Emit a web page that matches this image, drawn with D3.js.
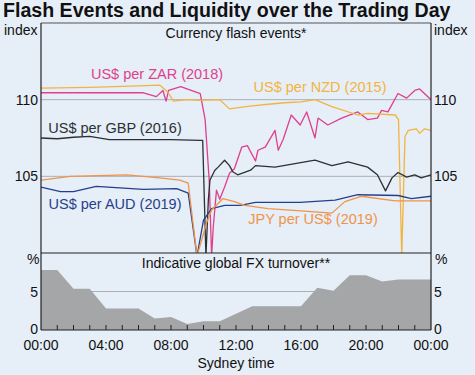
<!DOCTYPE html>
<html>
<head>
<meta charset="utf-8">
<script src="https://cdn.jsdelivr.net/npm/d3@7"></script>
<style>
  body { margin: 0; background: #e6eef7; }
  svg { display: block; font-family: "Liberation Sans", Arial, sans-serif; }
</style>
</head>
<body>
<div id="chart"></div>
<script>
// hours since midnight (Sydney time), index value
var zar = [[0,110.45],[6.3,110.45],[7.1,110.2],[7.5,110.6],[7.7,109.9],[7.85,110.6],[8.6,110.85],[9.8,110.4],
  [10.1,108.7],[10.35,104.76],[10.5,99.8],[10.6,101.7],[10.8,104.1],[11.0,103.5],[11.3,104.3],[11.6,105.2],
  [11.9,105.5],[12.35,106.9],[12.7,107.0],[13.2,106.0],[13.35,106.7],[13.8,106.9],[14.4,108.0],[14.6,106.7],
  [14.9,107.4],[15.4,109.0],[15.95,108.35],[16.35,109.2],[16.86,107.5],[17.05,108.8],[17.65,108.35],
  [18.5,108.8],[19.5,109.2],[20.1,108.7],[20.7,108.8],[20.96,109.3],[21.35,109.2],[21.97,110.4],
  [22.5,110.1],[23.0,110.6],[23.3,110.7],[24,110.0]];
var nzd = [[0,110.75],[3,110.8],[6,110.9],[7.3,110.95],[7.8,110.5],[8.15,109.9],[8.97,110.0],[9.8,109.95],
  [11.0,110.0],[11.6,109.4],[12.25,109.5],[13,109.6],[14,109.7],[15,109.8],[16,109.85],[16.86,110.0],
  [17.9,109.55],[19.5,109.0],[20.1,109.1],[21.8,109.0],[22.0,108.7],[22.2,99.8],[22.4,107.6],[22.6,108.0],
  [23.1,108.1],[23.3,107.8],[23.6,108.1],[24,108.0]];
var gbp = [[0,107.5],[1,107.45],[2,107.55],[3,107.6],[4.2,107.4],[6,107.4],[8,107.4],[9.8,107.35],
  [9.95,107.35],[10.15,99.8],[10.3,103.5],[10.4,104.76],[10.7,105.4],[10.9,105.6],[11.3,106.05],
  [11.6,105.7],[11.8,105.3],[12.1,105.1],[12.9,105.4],[13.2,105.7],[14.4,105.6],[16.86,106.05],
  [17.9,105.7],[18.9,105.95],[20.1,105.6],[20.7,105.1],[21.2,104.05],[21.6,104.9],[21.97,105.25],
  [22.5,104.95],[23.0,105.1],[23.4,104.9],[24,105.1]];
var aud = [[0,104.3],[1.2,104.0],[2,104.0],[3.4,104.35],[6.3,104.15],[8.35,104.2],[9.06,103.9],[9.6,99.8],
  [10.0,102.15],[10.5,102.9],[11.3,103.1],[12.25,103.1],[13.2,103.3],[15.95,103.3],[18.1,103.45],
  [19.5,103.8],[21.97,103.75],[22.8,103.55],[24,103.7]];
var jpy = [[0,104.75],[1.8,105.0],[5.27,105.1],[6.3,105.0],[7.3,104.9],[8.55,104.75],[9.06,104.55],[9.6,99.8],
  [10.2,102.0],[10.5,102.8],[11.2,103.55],[11.9,103.35],[12.55,103.1],[13.97,102.9],[16,102.75],
  [17.9,102.6],[18.7,103.35],[19.7,103.7],[21.8,103.4],[24,103.4]];

// share of daily global FX turnover by hour, per cent
var turnoverHours = [0,1,2,3,4,5,6,7,8,9,10,11,12,13,14,15,16,17,18,19,20,21,22,23,24];
var turnover = [7.8,7.8,5.35,5.35,2.8,2.8,2.8,1.5,1.7,0.77,1.15,1.15,2.1,3.1,3.1,3.1,3.1,5.5,5.1,7.1,7.1,6.3,6.55,6.55,6.55];

var topTicks = [105, 110];
var bottomTicks = [0, 5];
var xLabels = ["00:00","04:00","08:00","12:00","16:00","20:00","00:00"];

var series = [
  {name: "US$ per ZAR (2018)", data: zar, color: "#df3f8e", lx: 157, ly: 79},
  {name: "US$ per NZD (2015)", data: nzd, color: "#f2b441", lx: 320, ly: 92},
  {name: "US$ per GBP (2016)", data: gbp, color: "#2b3133", lx: 115, ly: 133},
  {name: "US$ per AUD (2019)", data: aud, color: "#263f8c", lx: 115, ly: 209},
  {name: "JPY per US$ (2019)", data: jpy, color: "#f0944a", lx: 313, ly: 224}
];

var W = 475, H = 375;
var pLeft = 41, pRight = 431, pTop = 23, pMid = 253, pBottom = 330;

var svg = d3.select("#chart").append("svg").attr("width", W).attr("height", H);

var x = d3.scaleLinear().domain([0, 24]).range([pLeft, pRight]);
var yTop = d3.scaleLinear().domain([100, 115]).range([pMid, pTop]);
var yBot = d3.scaleLinear().domain([0, 10]).range([pBottom, pMid]);

svg.append("text").attr("x", 3).attr("y", 17)
  .attr("font-size", 19.6).attr("font-weight", "bold").attr("fill", "#111")
  .text("Flash Events and Liquidity over the Trading Day");

svg.append("defs").append("clipPath").attr("id", "clipTop")
  .append("rect").attr("x", pLeft).attr("y", pTop).attr("width", pRight - pLeft).attr("height", pMid - pTop);

// gridlines
svg.selectAll(".gt").data(topTicks).enter().append("line")
  .attr("x1", pLeft).attr("x2", pRight)
  .attr("y1", function (d) { return yTop(d); }).attr("y2", function (d) { return yTop(d); })
  .attr("stroke", "#9a9fa6").attr("stroke-width", 0.8);
svg.selectAll(".gb").data([5]).enter().append("line")
  .attr("x1", pLeft).attr("x2", pRight)
  .attr("y1", function (d) { return yBot(d); }).attr("y2", function (d) { return yBot(d); })
  .attr("stroke", "#9a9fa6").attr("stroke-width", 0.8);

// turnover area
var area = d3.area()
  .x(function (d, i) { return x(turnoverHours[i]); })
  .y0(yBot(0))
  .y1(function (d) { return yBot(d); });
svg.append("path").datum(turnover).attr("d", area).attr("fill", "#a5a6a7");

// lines
var line = d3.line()
  .x(function (d) { return x(d[0]); })
  .y(function (d) { return yTop(d[1]); });
var g = svg.append("g").attr("clip-path", "url(#clipTop)");
series.forEach(function (s) {
  g.append("path").datum(s.data).attr("d", line)
    .attr("fill", "none").attr("stroke", s.color).attr("stroke-width", 1.3)
    .attr("stroke-linejoin", "round");
});
series.forEach(function (s) {
  svg.append("text").attr("x", s.lx).attr("y", s.ly).attr("text-anchor", "middle")
    .attr("font-size", 14.5).attr("fill", s.color).text(s.name);
});

// frame
svg.append("line").attr("x1", pLeft).attr("x2", pRight).attr("y1", pTop).attr("y2", pTop).attr("stroke", "#555").attr("stroke-width", 1);
svg.append("line").attr("x1", pLeft).attr("x2", pRight).attr("y1", pMid).attr("y2", pMid).attr("stroke", "#222").attr("stroke-width", 1.2);
svg.append("line").attr("x1", pLeft).attr("x2", pRight).attr("y1", pBottom).attr("y2", pBottom).attr("stroke", "#222").attr("stroke-width", 1.2);
svg.append("line").attr("x1", pLeft).attr("x2", pLeft).attr("y1", pTop).attr("y2", pBottom).attr("stroke", "#222").attr("stroke-width", 1.2);
svg.append("line").attr("x1", pRight).attr("x2", pRight).attr("y1", pTop).attr("y2", pBottom).attr("stroke", "#222").attr("stroke-width", 1.2);

// hourly ticks
svg.selectAll(".tk").data(d3.range(1, 24)).enter().append("line")
  .attr("x1", function (d) { return x(d); }).attr("x2", function (d) { return x(d); })
  .attr("y1", pBottom).attr("y2", pBottom - 5)
  .attr("stroke", "#222").attr("stroke-width", 1);

// panel titles
svg.append("text").attr("x", 236).attr("y", 38).attr("text-anchor", "middle")
  .attr("font-size", 14).attr("fill", "#111").text("Currency flash events*");
svg.append("text").attr("x", 236).attr("y", 268).attr("text-anchor", "middle")
  .attr("font-size", 14).attr("fill", "#111").text("Indicative global FX turnover**");

// unit labels
svg.append("text").attr("x", 4).attr("y", 35).attr("font-size", 14).attr("fill", "#111").text("index");
svg.append("text").attr("x", 434).attr("y", 35).attr("font-size", 14).attr("fill", "#111").text("index");
svg.append("text").attr("x", 27).attr("y", 264).attr("font-size", 14).attr("fill", "#111").text("%");
svg.append("text").attr("x", 435).attr("y", 264).attr("font-size", 14).attr("fill", "#111").text("%");

// y tick labels
topTicks.forEach(function (t) {
  svg.append("text").attr("x", pLeft - 3).attr("y", yTop(t) + 5).attr("text-anchor", "end")
    .attr("font-size", 14).attr("fill", "#111").text(t);
  svg.append("text").attr("x", pRight + 3).attr("y", yTop(t) + 5)
    .attr("font-size", 14).attr("fill", "#111").text(t);
});
bottomTicks.forEach(function (t) {
  svg.append("text").attr("x", pLeft - 3).attr("y", yBot(t) + (t === 0 ? 3.5 : 5)).attr("text-anchor", "end")
    .attr("font-size", 14).attr("fill", "#111").text(t);
  svg.append("text").attr("x", pRight + 3).attr("y", yBot(t) + (t === 0 ? 3.5 : 5))
    .attr("font-size", 14).attr("fill", "#111").text(t);
});

// x labels
xLabels.forEach(function (l, i) {
  svg.append("text").attr("x", x(i * 4)).attr("y", 350).attr("text-anchor", "middle")
    .attr("font-size", 14).attr("fill", "#111").text(l);
});
svg.append("text").attr("x", 236).attr("y", 368).attr("text-anchor", "middle")
  .attr("font-size", 14).attr("fill", "#111").text("Sydney time");
</script>
</body>
</html>
